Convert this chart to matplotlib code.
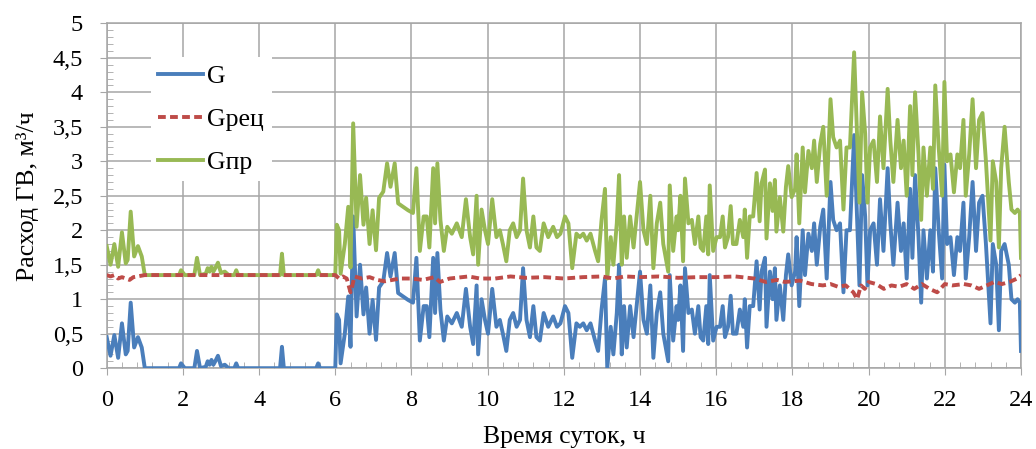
import matplotlib
matplotlib.use('Agg')
import matplotlib.pyplot as plt
from matplotlib.ticker import MultipleLocator, FuncFormatter

plt.rcParams['font.family'] = ['Liberation Serif', 'DejaVu Serif']

# Time of day, h
hours = [0.0, 0.1, 0.2, 0.3, 0.4, 0.5, 0.55, 0.63, 0.72, 0.82, 0.92, 1.0,
         1.9, 1.95, 2.05, 2.3, 2.37, 2.45, 2.6, 2.65, 2.7, 2.75, 2.8, 2.85,
         2.92, 3.0, 3.1, 3.2, 3.35, 3.4, 3.45, 4.55, 4.6, 4.65, 5.5, 5.55,
         5.6, 6.0, 6.04, 6.1, 6.14, 6.25, 6.34, 6.4, 6.47, 6.56, 6.65, 6.74,
         6.81, 6.9, 6.98, 7.07, 7.15, 7.26, 7.36, 7.45, 7.56, 7.65, 7.78, 7.91,
         8.04, 8.13, 8.22, 8.32, 8.4, 8.47, 8.57, 8.62, 8.68, 8.76, 8.85, 8.94,
         9.06, 9.19, 9.32, 9.43, 9.54, 9.62, 9.71, 9.75, 9.84, 9.93, 10.01, 10.12,
         10.23, 10.32, 10.4, 10.49, 10.58, 10.67, 10.76, 10.85, 10.93, 11.02, 11.11, 11.2,
         11.28, 11.37, 11.47, 11.59, 11.72, 11.82, 11.91, 12.03, 12.12, 12.22, 12.33, 12.42,
         12.51, 12.6, 12.7, 12.82, 12.9, 12.99, 13.08, 13.14, 13.23, 13.3, 13.39, 13.45,
         13.52, 13.58, 13.65, 13.74, 13.83, 13.91, 14.0, 14.09, 14.18, 14.27, 14.35, 14.44,
         14.53, 14.61, 14.74, 14.78, 14.87, 14.96, 15.0, 15.06, 15.13, 15.18, 15.27, 15.36,
         15.44, 15.53, 15.59, 15.66, 15.74, 15.79, 15.83, 15.92, 16.01, 16.1, 16.17, 16.23,
         16.31, 16.38, 16.44, 16.53, 16.62, 16.71, 16.75, 16.81, 16.88, 16.97, 17.06, 17.14,
         17.19, 17.28, 17.32, 17.41, 17.48, 17.54, 17.58, 17.67, 17.76, 17.83, 17.89, 17.98,
         18.07, 18.11, 18.18, 18.27, 18.33, 18.42, 18.51, 18.57, 18.64, 18.73, 18.81, 18.9,
         19.0, 19.07, 19.16, 19.25, 19.34, 19.42, 19.51, 19.62, 19.69, 19.76, 19.83, 19.91,
         19.97, 20.04, 20.13, 20.22, 20.3, 20.39, 20.5, 20.57, 20.65, 20.76, 20.85, 20.92,
         21.0, 21.09, 21.15, 21.22, 21.31, 21.38, 21.44, 21.53, 21.62, 21.69, 21.75, 21.84,
         21.93, 21.99, 22.06, 22.15, 22.24, 22.33, 22.4, 22.49, 22.55, 22.64, 22.73, 22.82,
         22.9, 22.99, 23.08, 23.2, 23.26, 23.35, 23.42, 23.48, 23.57, 23.68, 23.75, 23.84,
         23.91, 23.97, 24.0]

# G, m3/h
g_total = [0.45, 0.18, 0.48, 0.15, 0.65, 0.2, 0.25, 0.95, 0.3, 0.45, 0.3, 0.0,
           0.0, 0.07, 0.0, 0.0, 0.25, 0.0, 0.02, 0.1, 0.05, 0.12, 0.05, 0.1,
           0.18, 0.03, 0.05, 0.0, 0.0, 0.07, 0.0, 0.0, 0.31, 0.0, 0.0, 0.07,
           0.0, 0.0, 0.78, 0.7, 0.07, 0.5, 1.04, 0.31, 2.2, 0.75, 1.5, 0.78,
           1.17, 0.5, 0.99, 0.41, 1.17, 1.26, 1.67, 1.33, 1.67, 1.09, 1.04, 0.99,
           0.95, 1.6, 0.4, 0.9, 0.9, 0.45, 1.6, 0.8, 1.67, 0.85, 0.4, 0.75,
           0.65, 0.8, 0.6, 1.15, 0.6, 0.35, 1.2, 0.2, 1.0, 0.7, 0.5, 1.15,
           0.6, 0.7, 0.5, 0.25, 0.7, 0.8, 0.6, 0.7, 1.45, 0.7, 0.45, 0.9,
           0.45, 0.4, 0.8, 0.6, 0.75, 0.6, 0.65, 0.9, 0.8, 0.15, 0.65, 0.6,
           0.65, 0.55, 0.65, 0.4, 0.25, 0.85, 1.3, 0.0, 0.6, 0.2, 0.8, 1.5,
           0.2, 0.9, 0.3, 0.9, 0.45, 0.9, 1.4, 0.7, 0.5, 1.2, 0.15, 0.8,
           1.1, 0.5, 0.1, 1.35, 0.4, 0.9, 0.7, 1.2, 0.25, 1.45, 0.8, 0.85,
           0.5, 0.9, 0.45, 0.4, 0.9, 0.35, 1.35, 0.4, 0.6, 0.6, 0.9, 0.45,
           0.6, 1.05, 0.5, 0.5, 0.85, 0.6, 1.0, 0.3, 0.9, 0.9, 1.55, 0.85,
           1.4, 1.6, 0.6, 1.4, 1.0, 1.45, 0.7, 1.2, 0.7, 1.35, 1.65, 1.2,
           1.4, 1.9, 0.9, 2.0, 1.35, 1.95, 1.7, 2.1, 1.5, 2.05, 2.3, 1.3,
           2.7, 2.15, 2.0, 2.1, 1.1, 2.0, 2.0, 3.38, 2.3, 1.2, 2.8, 2.2,
           1.2, 2.0, 2.1, 1.5, 2.45, 1.7, 2.9, 2.1, 1.5, 2.4, 1.7, 2.1,
           1.3, 2.6, 1.6, 2.8, 1.9, 0.95, 2.0, 1.3, 2.0, 1.4, 2.9, 2.0,
           1.3, 2.95, 1.8, 1.9, 1.35, 1.9, 1.7, 2.4, 1.3, 1.9, 2.7, 1.7,
           2.4, 2.5, 1.8, 0.65, 1.8, 1.5, 0.55, 1.7, 1.8, 1.5, 1.0, 0.95,
           1.0, 0.95, 0.25]

# Gпр, m3/h
g_supply = [1.77, 1.5, 1.8, 1.47, 1.97, 1.52, 1.57, 2.27, 1.62, 1.77, 1.62, 1.35,
            1.35, 1.42, 1.35, 1.35, 1.6, 1.35, 1.37, 1.45, 1.4, 1.47, 1.4, 1.45,
            1.53, 1.38, 1.4, 1.35, 1.35, 1.42, 1.35, 1.35, 1.66, 1.35, 1.35, 1.42,
            1.35, 1.35, 2.08, 2.0, 1.37, 1.8, 2.34, 1.46, 3.55, 2.05, 2.8, 2.08,
            2.47, 1.8, 2.29, 1.71, 2.47, 2.56, 2.97, 2.63, 2.97, 2.39, 2.34, 2.29,
            2.25, 2.9, 1.7, 2.2, 2.2, 1.75, 2.9, 2.1, 2.97, 2.15, 1.7, 2.05,
            1.95, 2.1, 1.9, 2.45, 1.9, 1.65, 2.5, 1.5, 2.3, 2.0, 1.8, 2.45,
            1.9, 2.0, 1.8, 1.55, 2.0, 2.1, 1.9, 2.0, 2.75, 2.0, 1.75, 2.2,
            1.75, 1.7, 2.1, 1.9, 2.05, 1.9, 1.95, 2.2, 2.1, 1.45, 1.95, 1.9,
            1.95, 1.85, 1.95, 1.7, 1.55, 2.15, 2.6, 1.3, 1.9, 1.5, 2.1, 2.8,
            1.5, 2.2, 1.6, 2.2, 1.75, 2.2, 2.7, 2.0, 1.8, 2.5, 1.45, 2.1,
            2.4, 1.8, 1.4, 2.65, 1.7, 2.2, 2.0, 2.5, 1.55, 2.75, 2.1, 2.15,
            1.8, 2.2, 1.75, 1.7, 2.2, 1.65, 2.65, 1.7, 1.9, 1.9, 2.2, 1.75,
            1.9, 2.35, 1.8, 1.8, 2.15, 1.9, 2.3, 1.6, 2.2, 2.2, 2.83, 2.13,
            2.68, 2.88, 1.88, 2.68, 2.28, 2.73, 1.98, 2.48, 1.98, 2.63, 2.93, 2.48,
            2.6, 3.1, 2.1, 3.2, 2.55, 3.15, 2.9, 3.3, 2.7, 3.25, 3.5, 2.5,
            3.9, 3.35, 3.2, 3.3, 2.3, 3.2, 3.2, 4.58, 3.5, 2.4, 4.0, 3.4,
            2.4, 3.2, 3.3, 2.7, 3.65, 2.9, 4.05, 3.3, 2.7, 3.6, 2.9, 3.3,
            2.5, 3.8, 2.8, 4.0, 3.1, 2.15, 3.2, 2.5, 3.2, 2.6, 4.1, 3.2,
            2.5, 4.15, 3.0, 3.1, 2.55, 3.1, 2.9, 3.6, 2.5, 3.1, 3.9, 2.9,
            3.6, 3.7, 3.0, 1.85, 3.0, 2.7, 1.75, 2.9, 3.5, 2.7, 2.3, 2.25,
            2.3, 2.25, 1.6]

# Gрец, m3/h
rec_hours = [0.0, 0.1, 0.2, 0.3, 0.4, 0.5, 0.6, 0.7, 0.8, 0.9, 1.0, 6.0,
             6.1, 6.2, 6.3, 6.4, 6.45, 6.5, 6.7, 6.9, 7.1, 7.3, 7.5, 7.7,
             8.0, 8.3, 8.6, 8.75, 9.0, 9.5, 9.8, 10.2, 10.6, 11.0, 11.5, 12.0,
             12.5, 13.0, 13.3, 13.6, 14.0, 14.5, 15.0, 15.5, 16.0, 16.5, 17.0, 17.3,
             17.6, 17.8, 18.0, 18.2, 18.5, 18.8, 19.0, 19.2, 19.4, 19.6, 19.7, 19.8,
             19.9, 20.0, 20.2, 20.4, 20.6, 20.8, 21.0, 21.2, 21.4, 21.6, 21.8, 22.0,
             22.2, 22.5, 22.7, 22.9, 23.1, 23.3, 23.5, 23.7, 23.9, 24.0]
g_recirc = [1.35, 1.33, 1.35, 1.3, 1.32, 1.3, 1.28, 1.32, 1.33, 1.34, 1.35, 1.35,
            1.3, 1.33, 1.3, 1.1, 1.2, 1.33, 1.3, 1.32, 1.28, 1.26, 1.28, 1.3,
            1.3, 1.28, 1.32, 1.25, 1.3, 1.33, 1.3, 1.3, 1.33, 1.31, 1.32, 1.3,
            1.32, 1.33, 1.3, 1.33, 1.32, 1.33, 1.31, 1.32, 1.32, 1.33, 1.3, 1.25,
            1.28, 1.25, 1.26, 1.27, 1.22, 1.2, 1.22, 1.18, 1.2, 1.1, 1.0, 1.2,
            1.15, 1.25, 1.22, 1.15, 1.2, 1.18, 1.22, 1.15, 1.22, 1.15, 1.1, 1.22,
            1.2, 1.22, 1.2, 1.15, 1.2, 1.25, 1.22, 1.25, 1.3, 1.35]

fig = plt.figure(figsize=(10.36, 4.49), dpi=100)
ax = fig.add_axes([0.103, 0.18, 0.8825, 0.768])

ax.plot(hours, g_total, color='#4a7ebb', lw=2.8, label='G', zorder=3)
ax.plot(rec_hours, g_recirc, color='#be4b48', lw=2.8, ls=(0, (2.0, 1.1)), label='Gрец', zorder=4)
ax.plot(hours, g_supply, color='#98b954', lw=2.8, label='Gпр', zorder=3)

ax.set_xlim(0, 24)
ax.set_ylim(0, 5)
ax.xaxis.set_major_locator(MultipleLocator(2))
ax.xaxis.set_minor_locator(MultipleLocator(0.4))
ax.yaxis.set_major_locator(MultipleLocator(0.5))
ax.yaxis.set_minor_locator(MultipleLocator(0.1))
ax.yaxis.set_major_formatter(FuncFormatter(lambda v, p: ('%g' % v).replace('.', ',')))

ax.grid(True, which='major', color='#a6a6a6', lw=1.1)
ax.set_axisbelow(True)
for s in ax.spines.values():
    s.set_color('#a6a6a6')
    s.set_linewidth(1.1)
ax.tick_params(which='major', direction='out', length=5, color='#a6a6a6', labelsize=17.5)
ax.tick_params(which='minor', direction='in', length=4.5, color='#a6a6a6')
ax.tick_params(axis='x', which='major', pad=11)
ax.tick_params(axis='y', which='major', pad=12)

ax.set_xlabel('Время суток, ч', fontsize=18.5, labelpad=10.5)
ax.set_ylabel('Расход ГВ, м³/ч', fontsize=18.5, labelpad=10)

leg = ax.legend(loc='upper left', bbox_to_anchor=(0.034, 0.94), fontsize=18.5,
                frameon=True, fancybox=False, handlelength=1.75, labelspacing=0.78,
                borderpad=0.3, handletextpad=0.15)
leg.get_frame().set_facecolor('white')
leg.get_frame().set_edgecolor('none')
leg.get_frame().set_alpha(1)

fig.savefig('out.png', dpi=100)
